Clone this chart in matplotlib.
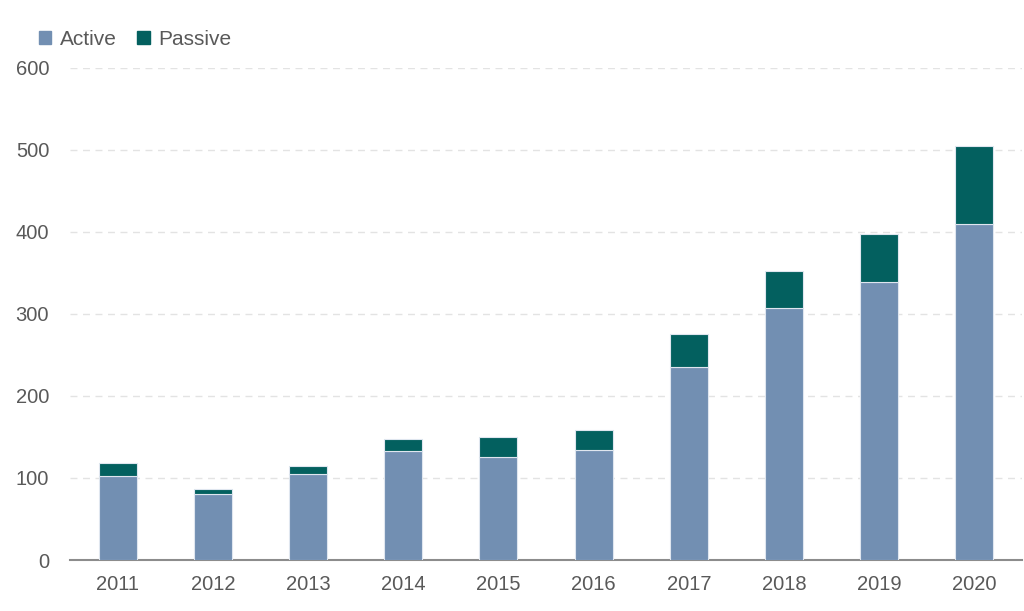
import matplotlib
matplotlib.use("Agg")
import matplotlib.pyplot as plt
from matplotlib.patches import Patch

years = ["2011", "2012", "2013", "2014", "2015", "2016", "2017", "2018", "2019", "2020"]
active = [102, 80, 105, 133, 125, 134, 235, 307, 339, 409]
passive = [16, 6, 9, 14, 25, 25, 41, 45, 58, 96]
yticks = [0, 100, 200, 300, 400, 500, 600]

c_active = "#728FB2"
c_passive = "#03605F"
txt = "#595959"
plt.rcParams['font.family'] = ['Liberation Sans Narrow', 'Liberation Sans', 'DejaVu Sans']

fig = plt.figure(figsize=(10.24, 6.11), dpi=100)
ax = fig.add_axes([70/1024, 1-560/611, (1022-70)/1024, (560-67.7)/611])
x = list(range(len(years)))
ax.bar(x, active, width=0.4, color=c_active, edgecolor="#dfe6ef", linewidth=0.8, zorder=3)
ax.bar(x, passive, bottom=active, width=0.4, color=c_passive, edgecolor="#dfe6ef", linewidth=0.8, zorder=3)

ax.set_ylim(0, 600)
ax.set_xlim(-0.5, 9.5)
ax.set_yticks(yticks)
ax.set_xticks(x)
ax.set_xticklabels(years)
ax.yaxis.grid(True, linestyle=(0, (5, 4)), color="#e3e3e3", linewidth=1, zorder=0)
for s in ["top", "right", "left"]:
    ax.spines[s].set_visible(False)
ax.spines["bottom"].set_color("#8c8c8c")
ax.spines["bottom"].set_linewidth(1.5)
ax.tick_params(axis="both", length=0, labelsize=14.5, colors=txt)
ax.tick_params(axis="x", pad=11)
ax.tick_params(axis="y", pad=15)

handles = [Patch(color=c_active, label="Active"), Patch(color=c_passive, label="Passive")]
leg = fig.legend(handles=handles, loc="upper left", bbox_to_anchor=(20/1024, 1-11/611), ncol=2,
                 frameon=False, fontsize=15, handlelength=0.6, handleheight=0.6,
                 handletextpad=0.4, columnspacing=1.0, labelcolor=txt)
fig.savefig("out.png", dpi=100)
